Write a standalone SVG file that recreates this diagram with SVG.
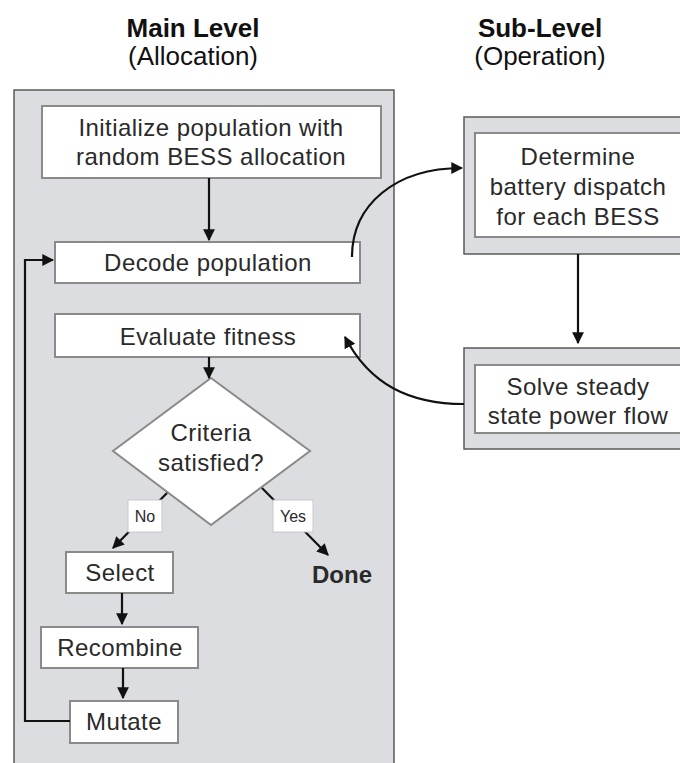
<svg xmlns="http://www.w3.org/2000/svg" width="680" height="763" viewBox="0 0 680 763">
<defs>
<style>
.t{font-family:"Liberation Sans",Arial,sans-serif;font-size:24px;letter-spacing:0.45px;fill:#2a2a2a;text-anchor:middle}
.h{font-family:"Liberation Sans",Arial,sans-serif;font-size:26px;fill:#111;text-anchor:middle}
.b{font-weight:bold;letter-spacing:0}
.s{font-family:"Liberation Sans",Arial,sans-serif;font-size:16px;fill:#2a2a2a;text-anchor:middle}
.box{fill:#fff;stroke:#8a8a8a;stroke-width:2}
.outer{fill:#dcdde0;stroke:#5a5a5a;stroke-width:1.5}
.lbl{fill:#fff;stroke:#c8c8c8;stroke-width:1}
.c{fill:none;stroke:#111;stroke-width:2.2}
</style>
<marker id="ah" viewBox="0 0 10 10" refX="9" refY="5" markerWidth="5.4" markerHeight="5.4" orient="auto" markerUnits="strokeWidth">
<path d="M0,0 L10,5 L0,10 z" fill="#111"/>
</marker>
</defs>
<rect width="680" height="763" fill="#fff"/>
<g id="headers">
<text class="h b" x="193" y="37">Main Level</text>
<text class="h" x="193" y="65">(Allocation)</text>
<text class="h b" x="540" y="37">Sub-Level</text>
<text class="h" x="540" y="65">(Operation)</text>
</g>
<g id="main-panel">
<rect class="outer" x="14" y="90" width="380" height="690"/>
</g>
<g id="init">
<rect class="box" x="42" y="106" width="339" height="72"/>
<text class="t" x="211" y="136">Initialize population with</text>
<text class="t" x="211" y="165">random BESS allocation</text>
</g>
<g id="decode">
<rect class="box" x="55" y="242" width="305" height="41"/>
<text class="t" x="208" y="271">Decode population</text>
</g>
<g id="evaluate">
<rect class="box" x="55" y="314" width="305" height="43"/>
<text class="t" x="208" y="345">Evaluate fitness</text>
</g>
<g id="criteria">
<polygon class="box" points="211,378 310,451 211,525 113,451"/>
<text class="t" x="211" y="441">Criteria</text>
<text class="t" x="211" y="471">satisfied?</text>
</g>
<g id="select">
<rect class="box" x="66" y="552" width="107" height="41"/>
<text class="t" x="120" y="581">Select</text>
</g>
<g id="recombine">
<rect class="box" x="41" y="627" width="157" height="41"/>
<text class="t" x="120" y="656">Recombine</text>
</g>
<g id="mutate">
<rect class="box" x="70" y="701" width="108" height="42"/>
<text class="t" x="124" y="730">Mutate</text>
</g>
<g id="done">
<text class="t b" x="342" y="583">Done</text>
</g>
<g id="determine">
<rect class="outer" x="464" y="117" width="230" height="137"/>
<rect class="box" x="475" y="133" width="220" height="104"/>
<text class="t" x="578" y="165">Determine</text>
<text class="t" x="578" y="195">battery dispatch</text>
<text class="t" x="578" y="225">for each BESS</text>
</g>
<g id="solve">
<rect class="outer" x="464" y="348" width="230" height="101"/>
<rect class="box" x="475" y="365" width="220" height="68"/>
<text class="t" x="578" y="395">Solve steady</text>
<text class="t" x="578" y="424">state power flow</text>
</g>
<g id="connectors">
<path class="c" d="M209,178 V240" marker-end="url(#ah)"/>
<path class="c" d="M209,357 V378" marker-end="url(#ah)"/>
<path class="c" d="M167,493 L113,548" marker-end="url(#ah)"/>
<path class="c" d="M262,488 L328,555" marker-end="url(#ah)"/>
<path class="c" d="M122,593 V624" marker-end="url(#ah)"/>
<path class="c" d="M123,668 V698" marker-end="url(#ah)"/>
<path class="c" d="M70,721 H25 V260 H53" marker-end="url(#ah)"/>
<path class="c" d="M352,257 C352,205 395,168 462,168" marker-end="url(#ah)"/>
<path class="c" d="M464,404 C410,404 370,385 345,337" marker-end="url(#ah)"/>
<path class="c" d="M578,254 V343" marker-end="url(#ah)"/>
</g>
<g id="labels">
<rect class="lbl" x="128" y="500" width="34" height="32"/>
<text class="s" x="145" y="522">No</text>
<rect class="lbl" x="273" y="500" width="40" height="32"/>
<text class="s" x="293" y="522">Yes</text>
</g>
</svg>
